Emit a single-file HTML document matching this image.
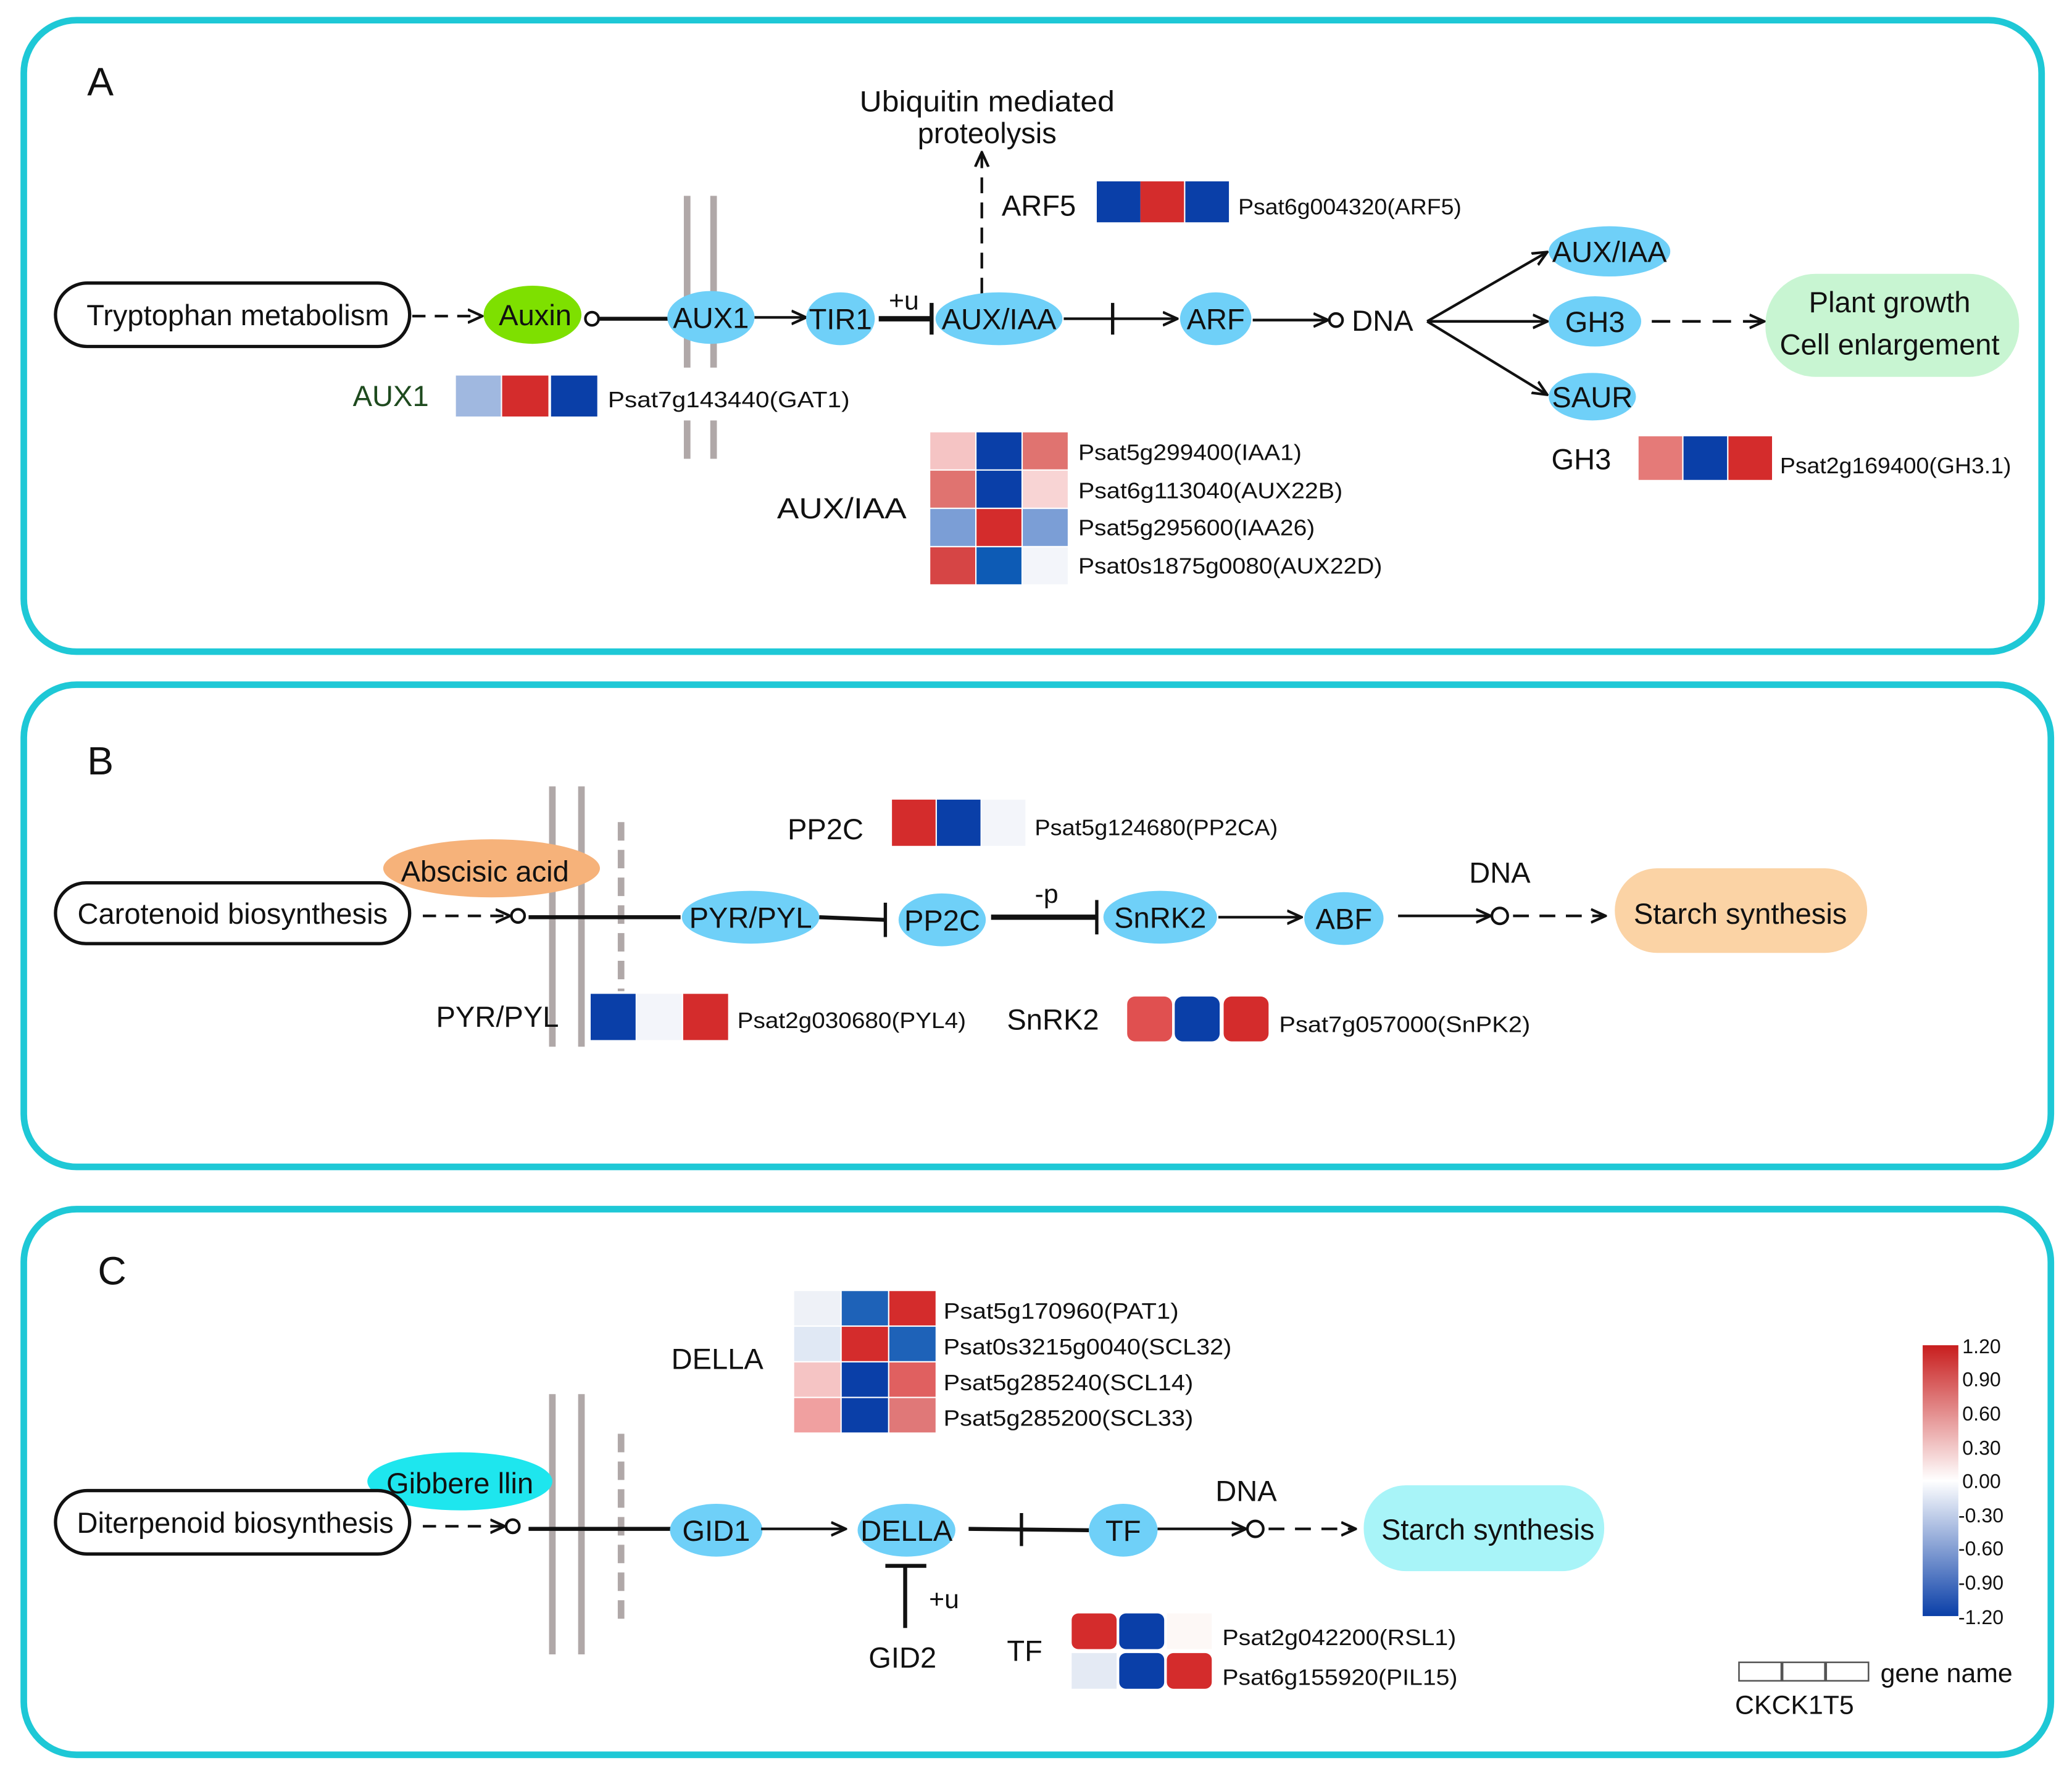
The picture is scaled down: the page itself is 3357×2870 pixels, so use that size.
<!DOCTYPE html>
<html><head><meta charset="utf-8"><style>
html,body{margin:0;padding:0;background:#fff;}
svg{display:block;}
text{font-family:"Liberation Sans",Arial,sans-serif;fill:#111;}
.n{fill:#6fd0f8;}
.t{font-size:22px;}
.g{font-size:17px;}
.nt{font-size:22px;text-anchor:middle;}
</style></head><body>
<svg width="3357" height="2870" viewBox="0 0 1568 1340" xmlns="http://www.w3.org/2000/svg">
<defs>
<marker id="ar" markerWidth="12" markerHeight="12" refX="10" refY="6" orient="auto" markerUnits="userSpaceOnUse"><path d="M0,1 L11,6 L0,11" fill="none" stroke="#111" stroke-width="2"/></marker>
<linearGradient id="cb" x1="0" y1="0" x2="0" y2="1"><stop offset="0" stop-color="#c81e1e"/><stop offset="0.5" stop-color="#ffffff"/><stop offset="1" stop-color="#0a3fa8"/></linearGradient>
</defs>
<g fill="none" stroke="#1ec8d6" stroke-width="5">
<rect x="18" y="15" width="1527" height="478" rx="40"/>
<rect x="18" y="518" width="1534" height="365" rx="40"/>
<rect x="18" y="915" width="1534" height="413" rx="40"/>
</g>
<!-- Panel A -->
<text x="66" y="72" style="font-size:30px">A</text>
<text x="747" y="84" class="nt" textLength="193" lengthAdjust="spacingAndGlyphs">Ubiquitin mediated</text>
<text x="747" y="108" class="nt">proteolysis</text>
<line x1="743" y1="222" x2="743" y2="116" stroke="#111" stroke-width="2" stroke-dasharray="12,7" marker-end="url(#ar)"/>
<text x="758" y="163" class="t">ARF5</text>
<rect x="830" y="137" width="33" height="31" fill="#0a3fa8"/><rect x="863" y="137" width="33" height="31" fill="#d42c2c"/><rect x="897" y="137" width="33" height="31" fill="#0a3fa8"/>
<text x="937" y="162" class="g" textLength="169" lengthAdjust="spacingAndGlyphs">Psat6g004320(ARF5)</text>
<rect x="42" y="214" width="268" height="48" rx="24" fill="#fff" stroke="#111" stroke-width="2.5"/>
<text x="180" y="246" class="nt">Tryptophan metabolism</text>
<line x1="312" y1="239" x2="364" y2="239" stroke="#111" stroke-width="2" stroke-dasharray="10,7" marker-end="url(#ar)"/>
<ellipse cx="403" cy="238" rx="37" ry="22" fill="#7ee000"/><text x="405" y="246" class="nt">Auxin</text>
<circle cx="448" cy="241" r="5" fill="#fff" stroke="#111" stroke-width="2"/>
<line x1="453" y1="241" x2="510" y2="241" stroke="#111" stroke-width="3"/>
<g stroke="#b0a8a8" stroke-width="5"><line x1="520" y1="148" x2="520" y2="278"/><line x1="540" y1="148" x2="540" y2="278"/><line x1="520" y1="318" x2="520" y2="347"/><line x1="540" y1="318" x2="540" y2="347"/></g>
<ellipse cx="538" cy="240" rx="33" ry="20" class="n"/><text x="538" y="248" class="nt">AUX1</text>
<line x1="571" y1="240" x2="609" y2="240" stroke="#111" stroke-width="2" marker-end="url(#ar)"/>
<ellipse cx="636" cy="241" rx="26" ry="20" class="n"/><text x="636" y="249" class="nt">TIR1</text>
<line x1="665" y1="241" x2="705" y2="241" stroke="#111" stroke-width="4"/><line x1="705" y1="229" x2="705" y2="253" stroke="#111" stroke-width="3"/>
<text x="684" y="234" class="nt" style="font-size:20px">+u</text>
<ellipse cx="756" cy="241" rx="48" ry="20" class="n"/><text x="756" y="249" class="nt">AUX/IAA</text>
<line x1="805" y1="241" x2="890" y2="241" stroke="#111" stroke-width="2" marker-end="url(#ar)"/><line x1="842" y1="229" x2="842" y2="253" stroke="#111" stroke-width="2.5"/>
<ellipse cx="920" cy="241" rx="27" ry="20" class="n"/><text x="920" y="249" class="nt">ARF</text>
<line x1="948" y1="242" x2="1004" y2="242" stroke="#111" stroke-width="2" marker-end="url(#ar)"/><circle cx="1011" cy="242" r="5" fill="#fff" stroke="#111" stroke-width="2"/>
<text x="1023" y="250" class="t">DNA</text>
<g stroke="#111" stroke-width="2" fill="none"><line x1="1080" y1="243" x2="1170" y2="191" marker-end="url(#ar)"/><line x1="1080" y1="243" x2="1170" y2="243" marker-end="url(#ar)"/><line x1="1080" y1="243" x2="1170" y2="298" marker-end="url(#ar)"/></g>
<ellipse cx="1218" cy="190" rx="46" ry="19" class="n"/><text x="1218" y="198" class="nt">AUX/IAA</text>
<ellipse cx="1207" cy="243" rx="35" ry="19" class="n"/><text x="1207" y="251" class="nt">GH3</text>
<ellipse cx="1205" cy="300" rx="33" ry="18" class="n"/><text x="1205" y="308" class="nt">SAUR</text>
<line x1="1250" y1="243" x2="1334" y2="243" stroke="#111" stroke-width="2" stroke-dasharray="14,9" marker-end="url(#ar)"/>
<rect x="1336" y="207" width="192" height="78" rx="38" fill="#c8f5d2"/>
<text x="1430" y="236" class="nt">Plant growth</text><text x="1430" y="268" class="nt">Cell enlargement</text>
<text x="267" y="307" class="t" style="fill:#1e4a1e">AUX1</text>
<rect x="345" y="284" width="34" height="31" fill="#a0b8e0"/><rect x="380" y="284" width="35" height="31" fill="#d42c2c"/><rect x="417" y="284" width="35" height="31" fill="#0a3fa8"/>
<text x="460" y="308" class="g" textLength="183" lengthAdjust="spacingAndGlyphs">Psat7g143440(GAT1)</text>
<text x="1174" y="355" class="t">GH3</text>
<rect x="1240" y="330" width="33" height="33" fill="#e57a78"/><rect x="1274" y="330" width="33" height="33" fill="#0a3fa8"/><rect x="1308" y="330" width="33" height="33" fill="#d42c2c"/>
<text x="1347" y="358" class="g" textLength="175" lengthAdjust="spacingAndGlyphs">Psat2g169400(GH3.1)</text>
<text x="588" y="392" class="t" textLength="98" lengthAdjust="spacingAndGlyphs">AUX/IAA</text>
<rect x="704" y="327" width="34" height="28" fill="#f5c4c4"/><rect x="739" y="327" width="34" height="28" fill="#0a3fa8"/><rect x="774" y="327" width="34" height="28" fill="#e07370"/>
<rect x="704" y="356" width="34" height="28" fill="#e07370"/><rect x="739" y="356" width="34" height="28" fill="#0a3fa8"/><rect x="774" y="356" width="34" height="28" fill="#f8d4d4"/>
<rect x="704" y="385" width="34" height="28" fill="#7b9ed6"/><rect x="739" y="385" width="34" height="28" fill="#d42c2c"/><rect x="774" y="385" width="34" height="28" fill="#7b9ed6"/>
<rect x="704" y="414" width="34" height="28" fill="#d64545"/><rect x="739" y="414" width="34" height="28" fill="#0d5bb5"/><rect x="774" y="414" width="34" height="28" fill="#f3f5fa"/>
<text x="816" y="348" class="g" textLength="169" lengthAdjust="spacingAndGlyphs">Psat5g299400(IAA1)</text><text x="816" y="377" class="g" textLength="200" lengthAdjust="spacingAndGlyphs">Psat6g113040(AUX22B)</text><text x="816" y="405" class="g" textLength="179" lengthAdjust="spacingAndGlyphs">Psat5g295600(IAA26)</text><text x="816" y="434" class="g" textLength="230" lengthAdjust="spacingAndGlyphs">Psat0s1875g0080(AUX22D)</text>
<!-- Panel B -->
<text x="66" y="586" style="font-size:30px">B</text>
<g stroke="#b0a8a8" stroke-width="5"><line x1="418" y1="595" x2="418" y2="792"/><line x1="440" y1="595" x2="440" y2="792"/><line x1="470" y1="622" x2="470" y2="750" stroke-dasharray="14,7"/></g>
<ellipse cx="372" cy="657" rx="82" ry="22" fill="#f6b27a"/><text x="367" y="667" class="nt">Abscisic acid</text>
<rect x="42" y="668" width="268" height="46" rx="23" fill="#fff" stroke="#111" stroke-width="2.5"/>
<text x="176" y="699" class="nt">Carotenoid biosynthesis</text>
<line x1="320" y1="693" x2="385" y2="693" stroke="#111" stroke-width="2" stroke-dasharray="10,7" marker-end="url(#ar)"/><circle cx="392" cy="693" r="5" fill="#fff" stroke="#111" stroke-width="2"/>
<line x1="400" y1="694" x2="515" y2="694" stroke="#111" stroke-width="3"/>
<ellipse cx="568" cy="694" rx="52" ry="20" class="n"/><text x="568" y="702" class="nt">PYR/PYL</text>
<line x1="620" y1="694" x2="670" y2="696" stroke="#111" stroke-width="3"/><line x1="670" y1="683" x2="670" y2="709" stroke="#111" stroke-width="2.5"/>
<ellipse cx="713" cy="696" rx="33" ry="20" class="n"/><text x="713" y="704" class="nt">PP2C</text>
<line x1="750" y1="694" x2="830" y2="694" stroke="#111" stroke-width="4"/><line x1="830" y1="681" x2="830" y2="707" stroke="#111" stroke-width="2.5"/>
<text x="792" y="683" class="nt" style="font-size:20px">-p</text>
<ellipse cx="878" cy="694" rx="43" ry="20" class="n"/><text x="878" y="702" class="nt">SnRK2</text>
<line x1="922" y1="694" x2="984" y2="694" stroke="#111" stroke-width="2" marker-end="url(#ar)"/>
<ellipse cx="1017" cy="695" rx="30" ry="20" class="n"/><text x="1017" y="703" class="nt">ABF</text>
<line x1="1058" y1="693" x2="1127" y2="693" stroke="#111" stroke-width="2" marker-end="url(#ar)"/><circle cx="1135" cy="693" r="6" fill="#fff" stroke="#111" stroke-width="2"/>
<line x1="1145" y1="693" x2="1214" y2="693" stroke="#111" stroke-width="2" stroke-dasharray="12,8" marker-end="url(#ar)"/>
<text x="1135" y="668" class="nt">DNA</text>
<rect x="1222" y="657" width="191" height="64" rx="32" fill="#fbd3a5"/><text x="1317" y="699" class="nt">Starch synthesis</text>
<text x="596" y="635" class="t">PP2C</text>
<rect x="675" y="605" width="33" height="35" fill="#d42c2c"/><rect x="709" y="605" width="33" height="35" fill="#0a3fa8"/><rect x="743" y="605" width="33" height="35" fill="#f3f5fa"/>
<text x="783" y="632" class="g" textLength="184" lengthAdjust="spacingAndGlyphs">Psat5g124680(PP2CA)</text>
<text x="330" y="777" class="t">PYR/PYL</text>
<rect x="447" y="752" width="34" height="35" fill="#0a3fa8"/><rect x="482" y="752" width="34" height="35" fill="#f3f5fa"/><rect x="517" y="752" width="34" height="35" fill="#d42c2c"/>
<text x="558" y="778" class="g" textLength="173" lengthAdjust="spacingAndGlyphs">Psat2g030680(PYL4)</text>
<text x="762" y="779" class="t">SnRK2</text>
<rect x="853" y="754" width="34" height="34" rx="6" fill="#e05050"/><rect x="889" y="754" width="34" height="34" rx="6" fill="#0a3fa8"/><rect x="926" y="754" width="34" height="34" rx="6" fill="#d42c2c"/>
<text x="968" y="781" class="g" textLength="190" lengthAdjust="spacingAndGlyphs">Psat7g057000(SnPK2)</text>
<!-- Panel C -->
<text x="74" y="972" style="font-size:30px">C</text>
<text x="508" y="1036" class="t">DELLA</text>
<rect x="601" y="977" width="35" height="26" fill="#eef1f7"/><rect x="637" y="977" width="35" height="26" fill="#1e62b8"/><rect x="673" y="977" width="35" height="26" fill="#d42c2c"/>
<rect x="601" y="1004" width="35" height="26" fill="#e0e8f4"/><rect x="637" y="1004" width="35" height="26" fill="#d42c2c"/><rect x="673" y="1004" width="35" height="26" fill="#1e62b8"/>
<rect x="601" y="1031" width="35" height="26" fill="#f5c4c4"/><rect x="637" y="1031" width="35" height="26" fill="#0a3fa8"/><rect x="673" y="1031" width="35" height="26" fill="#e06060"/>
<rect x="601" y="1058" width="35" height="26" fill="#f0a0a0"/><rect x="637" y="1058" width="35" height="26" fill="#0a3fa8"/><rect x="673" y="1058" width="35" height="26" fill="#e07878"/>
<text x="714" y="998" class="g" textLength="178" lengthAdjust="spacingAndGlyphs">Psat5g170960(PAT1)</text><text x="714" y="1025" class="g" textLength="218" lengthAdjust="spacingAndGlyphs">Psat0s3215g0040(SCL32)</text><text x="714" y="1052" class="g" textLength="189" lengthAdjust="spacingAndGlyphs">Psat5g285240(SCL14)</text><text x="714" y="1079" class="g" textLength="189" lengthAdjust="spacingAndGlyphs">Psat5g285200(SCL33)</text>
<g stroke="#b0a8a8" stroke-width="5"><line x1="418" y1="1055" x2="418" y2="1252"/><line x1="440" y1="1055" x2="440" y2="1252"/><line x1="470" y1="1085" x2="470" y2="1230" stroke-dasharray="14,7"/></g>
<ellipse cx="348" cy="1121" rx="70" ry="22" fill="#1ee6ee"/><text x="348" y="1130" class="nt">Gibbere llin</text>
<rect x="42" y="1128" width="268" height="48" rx="24" fill="#fff" stroke="#111" stroke-width="2.5"/>
<text x="178" y="1160" class="nt">Diterpenoid biosynthesis</text>
<line x1="320" y1="1155" x2="381" y2="1155" stroke="#111" stroke-width="2" stroke-dasharray="10,7" marker-end="url(#ar)"/><circle cx="388" cy="1155" r="5" fill="#fff" stroke="#111" stroke-width="2"/>
<line x1="400" y1="1157" x2="508" y2="1157" stroke="#111" stroke-width="3"/>
<ellipse cx="542" cy="1158" rx="35" ry="20" class="n"/><text x="542" y="1166" class="nt">GID1</text>
<line x1="576" y1="1157" x2="639" y2="1157" stroke="#111" stroke-width="2" marker-end="url(#ar)"/>
<ellipse cx="686" cy="1158" rx="37" ry="20" class="n"/><text x="686" y="1166" class="nt">DELLA</text>
<line x1="733" y1="1157" x2="824" y2="1158" stroke="#111" stroke-width="3"/><line x1="773" y1="1145" x2="773" y2="1170" stroke="#111" stroke-width="2.5"/>
<ellipse cx="850" cy="1158" rx="26" ry="20" class="n"/><text x="850" y="1166" class="nt">TF</text>
<line x1="876" y1="1157" x2="942" y2="1157" stroke="#111" stroke-width="2" marker-end="url(#ar)"/><circle cx="950" cy="1157" r="6" fill="#fff" stroke="#111" stroke-width="2"/>
<line x1="960" y1="1157" x2="1025" y2="1157" stroke="#111" stroke-width="2" stroke-dasharray="12,8" marker-end="url(#ar)"/>
<text x="943" y="1136" class="nt">DNA</text>
<rect x="1032" y="1124" width="182" height="65" rx="32" fill="#a8f4f8"/><text x="1126" y="1165" class="nt">Starch synthesis</text>
<line x1="685" y1="1185" x2="685" y2="1232" stroke="#111" stroke-width="3"/><line x1="670" y1="1185" x2="701" y2="1185" stroke="#111" stroke-width="3"/>
<text x="703" y="1217" style="font-size:20px">+u</text>
<text x="683" y="1262" class="nt">GID2</text>
<text x="762" y="1257" class="t">TF</text>
<rect x="811" y="1221" width="34" height="27" rx="5" fill="#d42c2c"/><rect x="847" y="1221" width="34" height="27" rx="5" fill="#0a3fa8"/><rect x="883" y="1221" width="34" height="27" fill="#fdf8f6"/>
<rect x="811" y="1251" width="34" height="27" fill="#e4eaf4"/><rect x="847" y="1251" width="34" height="27" rx="5" fill="#0a3fa8"/><rect x="883" y="1251" width="34" height="27" rx="5" fill="#d42c2c"/>
<text x="925" y="1245" class="g" textLength="177" lengthAdjust="spacingAndGlyphs">Psat2g042200(RSL1)</text><text x="925" y="1275" class="g" textLength="178" lengthAdjust="spacingAndGlyphs">Psat6g155920(PIL15)</text>
<rect x="1455" y="1018" width="27" height="205" fill="url(#cb)"/>
<g style="font-size:15px">
<text x="1485" y="1024">1.20</text><text x="1485" y="1049">0.90</text><text x="1485" y="1075">0.60</text><text x="1485" y="1101">0.30</text><text x="1485" y="1126">0.00</text><text x="1482" y="1152">-0.30</text><text x="1482" y="1177">-0.60</text><text x="1482" y="1203">-0.90</text><text x="1482" y="1229">-1.20</text>
</g>
<g fill="#fff" stroke="#555" stroke-width="1.2"><rect x="1316" y="1258" width="32" height="14"/><rect x="1349" y="1258" width="32" height="14"/><rect x="1382" y="1258" width="32" height="14"/></g>
<text x="1423" y="1273" style="font-size:20px">gene name</text>
<text x="1313" y="1297" style="font-size:20px">CKCK1T5</text>
</svg>
</body></html>
